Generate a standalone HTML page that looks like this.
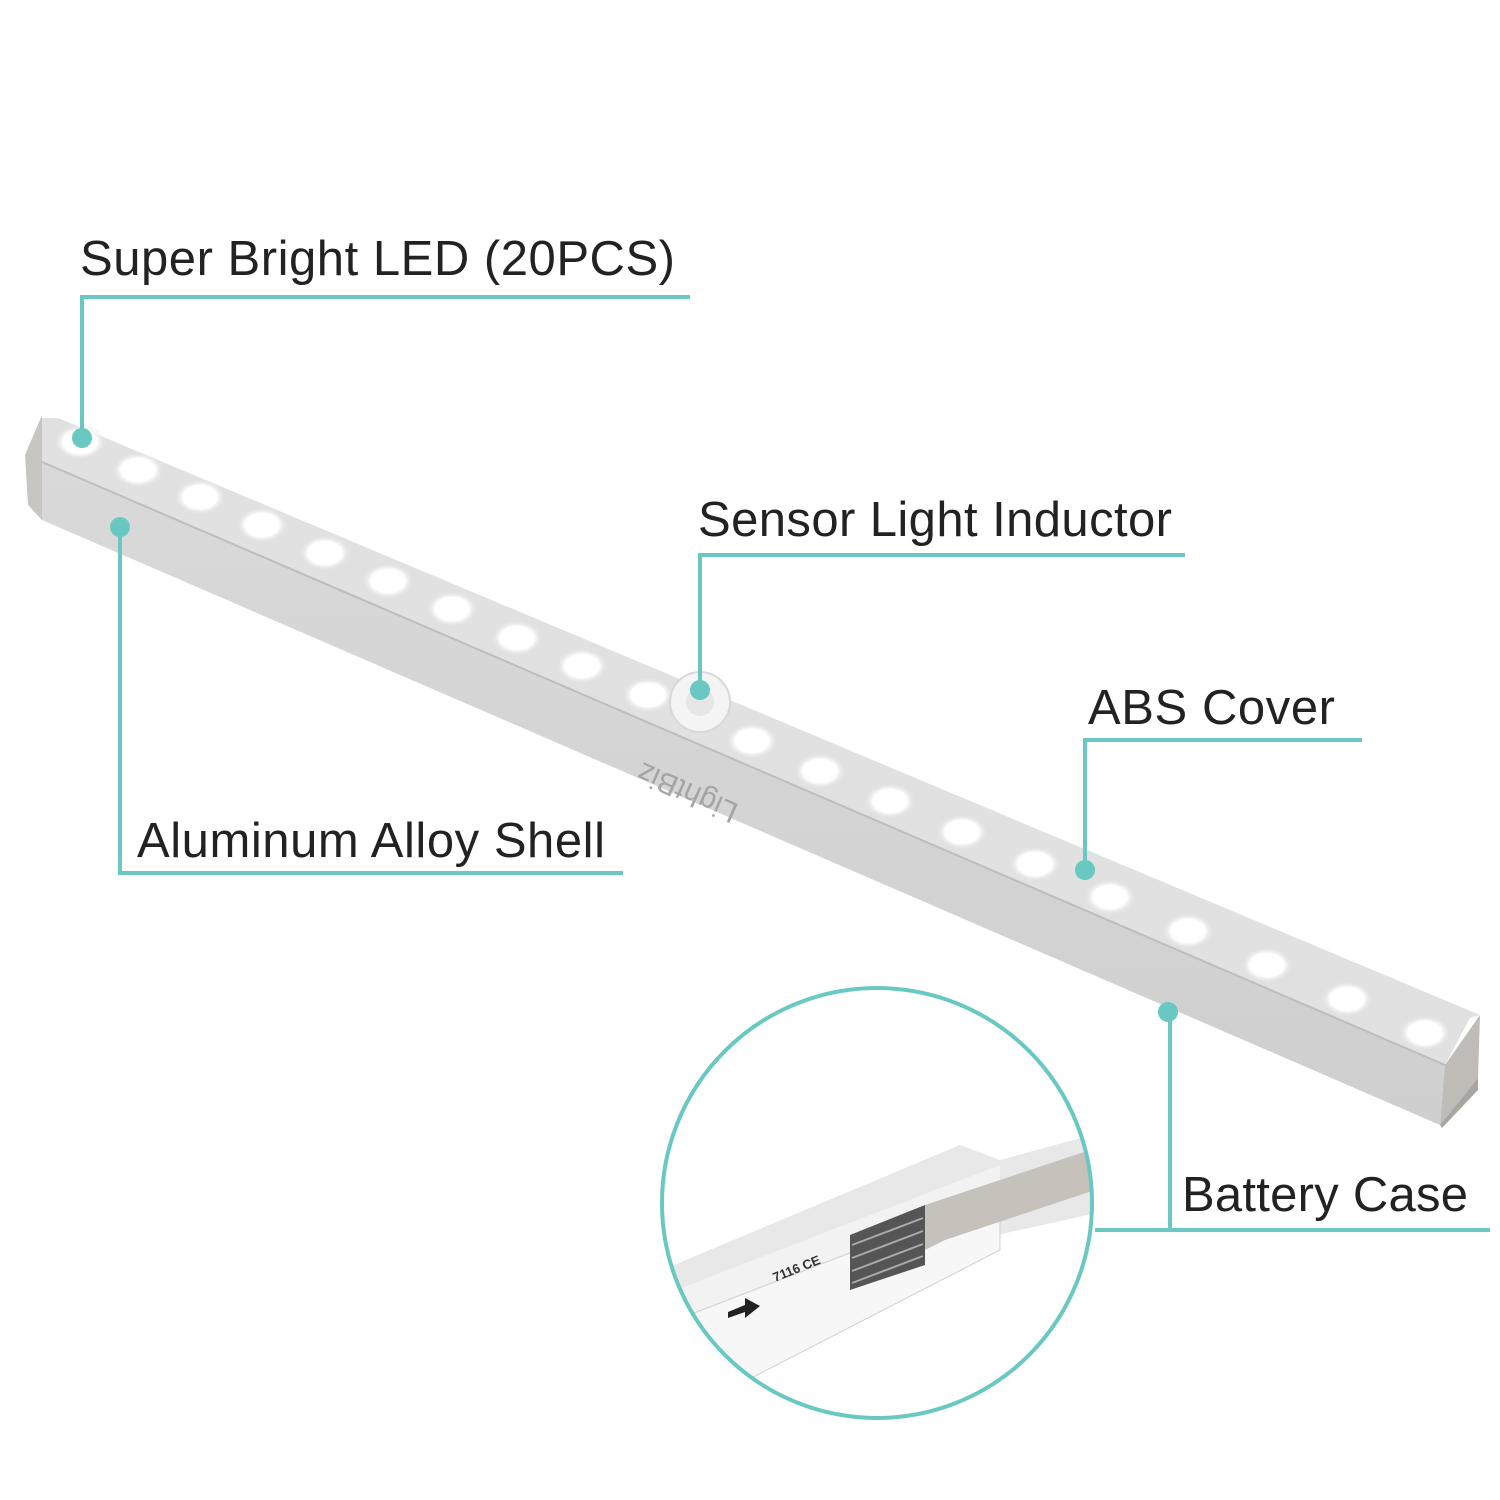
<!DOCTYPE html>
<html><head><meta charset="utf-8"><style>
html,body{margin:0;padding:0;background:#fff;}
svg{display:block;}
text{font-family:"Liberation Sans",sans-serif;}
</style></head><body>
<svg width="1500" height="1500" viewBox="0 0 1500 1500" xmlns="http://www.w3.org/2000/svg">
<defs>
<radialGradient id="led" cx="50%" cy="50%" r="50%">
<stop offset="0%" stop-color="#ffffff"/><stop offset="65%" stop-color="#ffffff"/><stop offset="100%" stop-color="#e0e0e0" stop-opacity="0"/>
</radialGradient>
<linearGradient id="front" x1="0" y1="0" x2="0" y2="1">
<stop offset="0" stop-color="#d9d9d9"/><stop offset="1" stop-color="#cfcfcf"/>
</linearGradient>
<clipPath id="cc"><circle cx="877" cy="1203" r="215"/></clipPath>
</defs>
<polygon points="25,455 42,415 42,520 28,505" fill="#c8c6c2"/>
<polygon points="42,418 58,418 1480,1015 1470,1018 1445,1065 42,462" fill="#e1e1e1"/>
<polygon points="42,462 1445,1065 1440,1125 42,520" fill="url(#front)"/>
<line x1="42" y1="462" x2="1445" y2="1065" stroke="#bdbdbd" stroke-width="2"/>
<polygon points="1445,1065 1480,1015 1478,1078 1440,1125" fill="#bfbcb7"/>
<polygon points="1440,1125 1478,1078 1478,1090 1442,1128" fill="#a9a6a1"/>
<g fill="url(#led)">
<ellipse cx="80" cy="442" rx="26" ry="18"/>
<ellipse cx="138" cy="470" rx="26" ry="18"/>
<ellipse cx="200" cy="497" rx="26" ry="18"/>
<ellipse cx="262" cy="525" rx="26" ry="18"/>
<ellipse cx="325" cy="553" rx="26" ry="18"/>
<ellipse cx="388" cy="581" rx="26" ry="18"/>
<ellipse cx="452" cy="609" rx="26" ry="18"/>
<ellipse cx="517" cy="638" rx="26" ry="18"/>
<ellipse cx="582" cy="666" rx="26" ry="18"/>
<ellipse cx="648" cy="695" rx="26" ry="18"/>
<ellipse cx="752" cy="741" rx="26" ry="18"/>
<ellipse cx="820" cy="771" rx="26" ry="18"/>
<ellipse cx="890" cy="801" rx="26" ry="18"/>
<ellipse cx="962" cy="832" rx="26" ry="18"/>
<ellipse cx="1035" cy="864" rx="26" ry="18"/>
<ellipse cx="1110" cy="897" rx="26" ry="18"/>
<ellipse cx="1188" cy="931" rx="26" ry="18"/>
<ellipse cx="1267" cy="965" rx="26" ry="18"/>
<ellipse cx="1347" cy="999" rx="26" ry="18"/>
<ellipse cx="1425" cy="1033" rx="26" ry="18"/>
</g>
<circle cx="700" cy="702" r="30" fill="#f4f4f4" stroke="#d8d8d8" stroke-width="2"/>
<circle cx="700" cy="702" r="14" fill="#e6e6e6"/>
<text x="0" y="0" font-size="30" fill="#a5a5a5" transform="translate(740,805) rotate(204)">LightBiz</text>
<g clip-path="url(#cc)">
<rect x="650" y="980" width="460" height="450" fill="#fff"/>
<polygon points="650,1275 960,1145 1000,1160 1110,1130 1110,1210 930,1250 650,1390" fill="#e8e8e8"/>
<polygon points="650,1300 1000,1165 1000,1245 650,1420" fill="#f2f2f2"/>
<polygon points="650,1330 1000,1195 1000,1250 650,1430" fill="#f7f7f7" stroke="#d0d0d0"/>
<polygon points="850,1235 925,1205 925,1265 850,1290" fill="#555"/>
<g stroke="#aaa" stroke-width="2"><line x1="852" y1="1245" x2="923" y2="1218"/><line x1="852" y1="1258" x2="923" y2="1231"/><line x1="852" y1="1271" x2="923" y2="1244"/><line x1="852" y1="1283" x2="923" y2="1256"/></g>
<polygon points="925,1205 1090,1150 1110,1165 1110,1185 945,1240 925,1250" fill="#c6c2bb"/>
<polygon points="728,1312 745,1305 745,1298 760,1306 745,1318 745,1312 728,1318" fill="#222"/>
<text x="0" y="0" font-size="13" font-weight="bold" fill="#333" transform="translate(775,1282) rotate(-22)">7116 CE</text>
</g>
<circle cx="877" cy="1203" r="215" fill="none" stroke="#6ac8c2" stroke-width="4"/>
<g stroke="#6ac8c2" stroke-width="4" fill="none">
<polyline points="690,297 82,297 82,438"/>
<polyline points="1185,555 700,555 700,690"/>
<polyline points="1362,740 1085,740 1085,870"/>
<polyline points="623,873 120,873 120,527"/>
<polyline points="1490,1230 1095,1230"/>
<line x1="1170" y1="1012" x2="1170" y2="1230"/>
</g>
<g fill="#6ac8c2">
<circle cx="82" cy="438" r="10"/><circle cx="700" cy="690" r="10"/><circle cx="1085" cy="870" r="10"/><circle cx="120" cy="527" r="10"/><circle cx="1168" cy="1012" r="10"/>
</g>
<g font-size="49" fill="#222">
<text x="80" y="275" textLength="595">Super Bright LED (20PCS)</text>
<text x="698" y="536" textLength="474">Sensor Light Inductor</text>
<text x="1088" y="724" textLength="247">ABS Cover</text>
<text x="137" y="857" textLength="468">Aluminum Alloy Shell</text>
<text x="1182" y="1211" textLength="286">Battery Case</text>
</g>
</svg>
</body></html>
